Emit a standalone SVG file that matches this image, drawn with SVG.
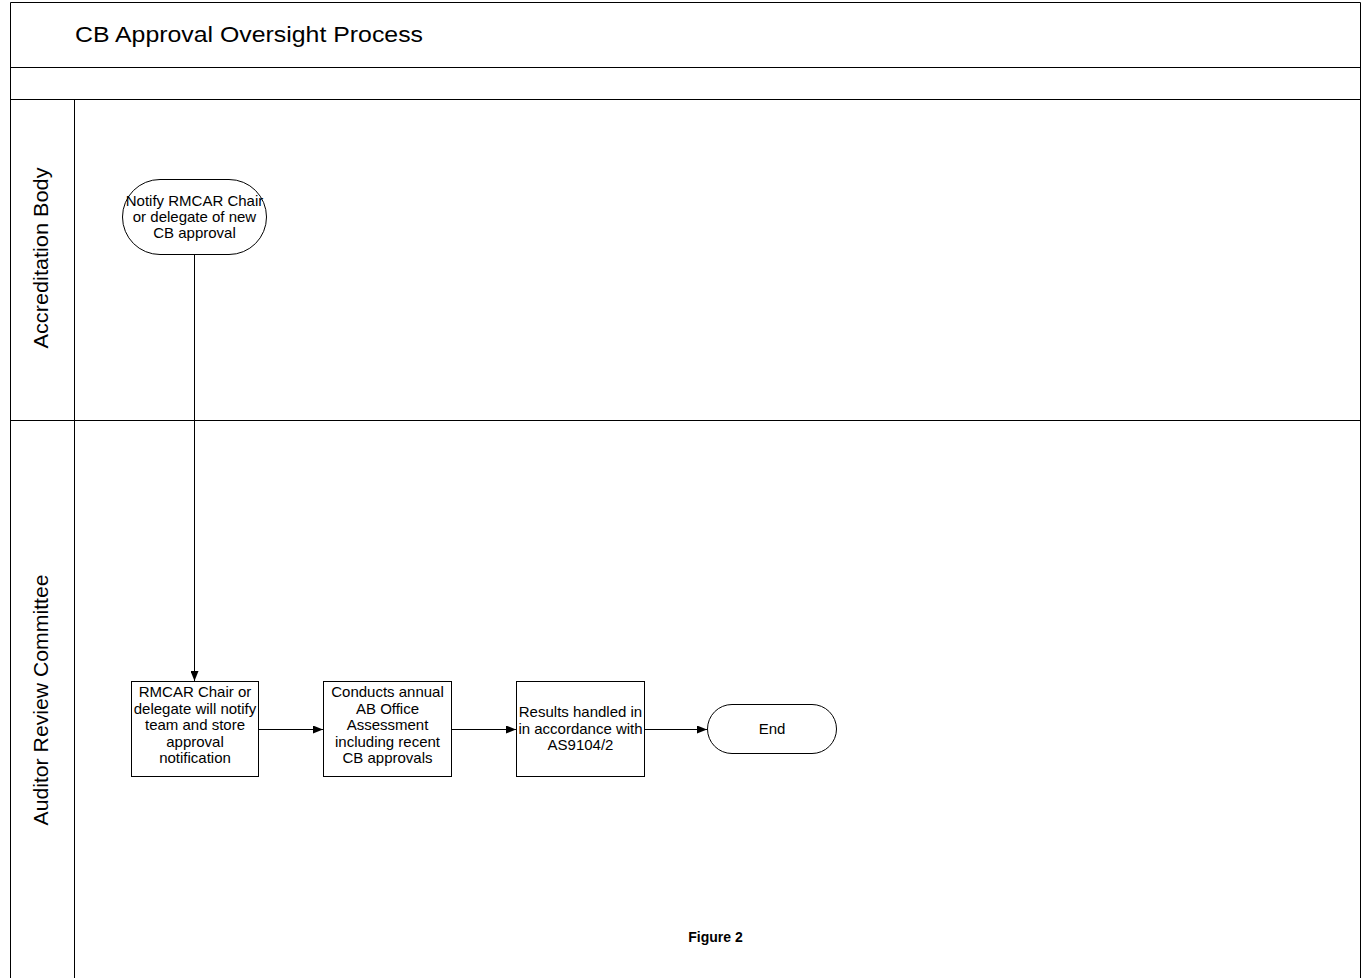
<svg xmlns="http://www.w3.org/2000/svg" width="1362" height="978" viewBox="0 0 1362 978">
<style>
.frame{fill:none;stroke:#000;stroke-width:1}
.node{fill:#fff;stroke:#000;stroke-width:1}
.t{font-family:"Liberation Sans",Arial,sans-serif;font-size:15px;fill:#000;text-anchor:middle}
.lane{font-family:"Liberation Sans",Arial,sans-serif;font-size:21px;fill:#000;text-anchor:middle}
.conn{fill:none;stroke:#000;stroke-width:1;marker-end:url(#arr)}
</style>
<defs>
<marker id="arr" markerWidth="10" markerHeight="8" refX="10" refY="4" orient="auto" markerUnits="userSpaceOnUse">
<path d="M0,0 L10,4 L0,8 Z" fill="#000"/>
</marker>
</defs>
<rect width="1362" height="978" fill="#fff"/>
<g id="pool">
<path class="frame" d="M10.5,978 V2.5 H1360.5 V978"/>
<line class="frame" x1="10" y1="67.5" x2="1361" y2="67.5"/>
<line class="frame" x1="10" y1="99.5" x2="1361" y2="99.5"/>
<line class="frame" x1="74.5" y1="99" x2="74.5" y2="978"/>
<line class="frame" x1="10" y1="420.5" x2="1361" y2="420.5"/>
<text x="75" y="42" font-family="'Liberation Sans',Arial,sans-serif" font-size="22" fill="#000" textLength="348" lengthAdjust="spacingAndGlyphs">CB Approval Oversight Process</text>
<text class="lane" transform="translate(48,258) rotate(-90)" textLength="181" lengthAdjust="spacingAndGlyphs">Accreditation Body</text>
<text class="lane" transform="translate(48,700) rotate(-90)" textLength="251" lengthAdjust="spacingAndGlyphs">Auditor Review Committee</text>
</g>
<g id="connectors">
<line class="conn" x1="194.5" y1="255" x2="194.5" y2="681"/>
<line class="conn" x1="259" y1="729.5" x2="323" y2="729.5"/>
<line class="conn" x1="452" y1="729.5" x2="516" y2="729.5"/>
<line class="conn" x1="644" y1="729.5" x2="707" y2="729.5"/>
</g>
<g id="n1">
<rect class="node" x="122.5" y="179.5" width="144" height="75" rx="37.5" ry="37.5"/>
<text class="t" x="194.5" y="206">Notify RMCAR Chair</text>
<text class="t" x="194.5" y="222">or delegate of new</text>
<text class="t" x="194.5" y="238">CB approval</text>
</g>
<g id="n2">
<rect class="node" x="131.5" y="681.5" width="127" height="95"/>
<text class="t" x="195" y="697">RMCAR Chair or</text>
<text class="t" x="195" y="713.5">delegate will notify</text>
<text class="t" x="195" y="730">team and store</text>
<text class="t" x="195" y="746.5">approval</text>
<text class="t" x="195" y="763">notification</text>
</g>
<g id="n3">
<rect class="node" x="323.5" y="681.5" width="128" height="95"/>
<text class="t" x="387.5" y="697">Conducts annual</text>
<text class="t" x="387.5" y="713.5">AB Office</text>
<text class="t" x="387.5" y="730">Assessment</text>
<text class="t" x="387.5" y="746.5">including  recent</text>
<text class="t" x="387.5" y="763">CB approvals</text>
</g>
<g id="n4">
<rect class="node" x="516.5" y="681.5" width="128" height="95"/>
<text class="t" x="580.5" y="717">Results handled in</text>
<text class="t" x="580.5" y="733.5">in accordance with</text>
<text class="t" x="580.5" y="750">AS9104/2</text>
</g>
<g id="n5">
<rect class="node" x="707.5" y="704.5" width="129" height="49" rx="24.5" ry="24.5"/>
<text class="t" x="772" y="734">End</text>
</g>
<text x="715.5" y="942" font-family="'Liberation Sans',Arial,sans-serif" font-size="14" font-weight="bold" text-anchor="middle" fill="#000">Figure 2</text>
</svg>
